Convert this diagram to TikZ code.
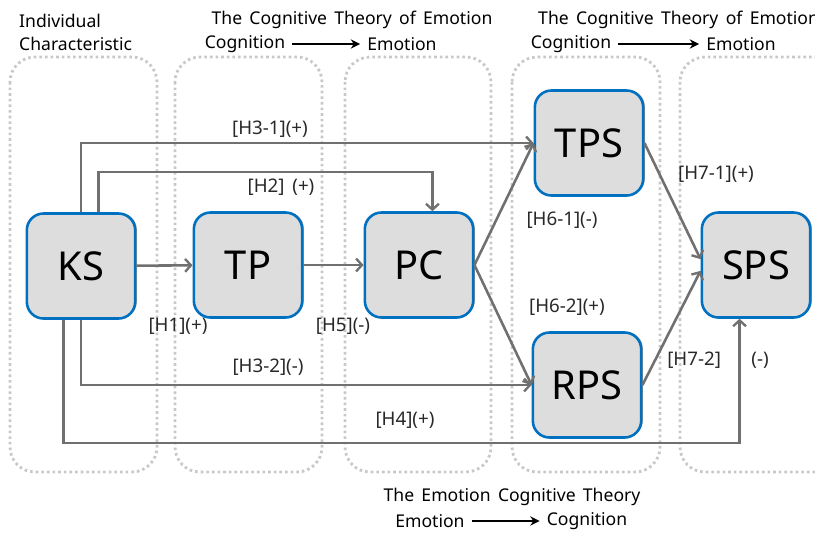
\documentclass[tikz,border=0pt]{standalone}
\usepackage{fontspec}
\setmainfont{Noto Sans}[WordSpace=1.6]
\usetikzlibrary{arrows.meta}
\usetikzlibrary{shadows}

\definecolor{BoxBlue}{RGB}{0,112,192}
\definecolor{BoxGrey}{RGB}{221,221,221}
\definecolor{LinkGrey}{RGB}{112,112,112}
\definecolor{LaneGrey}{RGB}{200,200,200}
\definecolor{LabelGrey}{RGB}{40,40,40}

\begin{document}
\begin{tikzpicture}[x=0.03cm, y=-0.03cm,
      factor/.style={rectangle, rounded corners=0.5cm, draw=BoxBlue,
         line width=2.2pt, fill=BoxGrey, minimum width=3.25cm,
         minimum height=3.15cm, font=\fontsize{34}{40}\selectfont,
         drop shadow={shadow xshift=1.4pt, shadow yshift=0.4pt,
            opacity=0.8, fill=LinkGrey}},
      link/.style={draw=LinkGrey, line width=2.2pt,
         -{Straight Barb[length=5pt, width=11pt, line width=2pt]}},
      lane/.style={draw=LaneGrey, line width=2.4pt,
         dash pattern=on 2.2pt off 2.6pt, rounded corners=0.75cm},
      hyp/.style={font=\fontsize{16}{19}\selectfont, text=LabelGrey},
      head/.style={font=\fontsize{15}{19.6}\selectfont, inner sep=0pt},
      cue/.style={draw=black, line width=1.5pt,
         -{Stealth[length=8pt, width=8pt]}, shorten <=6pt, shorten >=6pt}]
      \useasboundingbox (0,0) rectangle (815,532);

      % dotted lanes
      \draw [lane] (10,57) rectangle (157,472);
      \draw [lane] (175,57) rectangle (322,472);
      \draw [lane] (345,57) rectangle (491,472);
      \draw [lane] (512,57) rectangle (660,472);
      \draw [lane] (680,57) rectangle (860,472);

      % headings
      \node (indiv) at (19,32) [head, anchor=west, align=left]
         {Individual\\Characteristic};
      \node (cte1) at (352,20) [head] {The Cognitive Theory of Emotion};
      \node (cog1) at (245,44) [head] {Cognition};
      \node (emo1) at (402,44) [head] {Emotion};
      \draw [cue] (cog1) -- (emo1);
      \node (cte2) at (538,20) [head, anchor=west] {The Cognitive Theory of Emotion};
      \node (cog2) at (571,44) [head] {Cognition};
      \node (emo2) at (741,44) [head] {Emotion};
      \draw [cue] (cog2) -- (emo2);
      \node (ect) at (512,497) [head] {The Emotion Cognitive Theory};
      \node (emo3) at (430,521) [head] {Emotion};
      \node (cog3) at (587,521) [head] {Cognition};
      \draw [cue] (emo3) -- (cog3);

      % variables
      \node (KS) at (81,266) [factor] {KS};
      \node (TP) at (248,265) [factor] {TP};
      \node (PC) at (419,265) [factor] {PC};
      \node (TPS) at (589,143) [factor] {TPS};
      \node (RPS) at (587,385) [factor] {RPS};
      \node (SPS) at (756,265) [factor] {SPS};

      \coordinate (h2turn) at (0,172);
      \coordinate (h4turn) at (0,443);

      % paths
      \draw [link] (KS) -- (TP);
      \draw [link] (TP) -- (PC);
      \draw [link] (KS.72) -- (KS.72 |- h2turn) -| (PC.76);
      \draw [link] (KS.north) |- (TPS.west);
      \draw [link] (KS.south) |- (RPS.west);
      \draw [link] (KS.-108) -- (KS.-108 |- h4turn) -| (SPS.-107);
      \draw [link] (PC.east) -- (TPS.west);
      \draw [link] (PC.east) -- (RPS.west);
      \draw [link] (TPS.east) -- (SPS.174);
      \draw [link] (RPS.east) -- (SPS.186);

      % hypotheses
      \node (h1) at (178,326) [hyp] {[H1](+)};
      \node (h2) at (281,187) [hyp] {[H2] (+)};
      \node (h31) at (270,129) [hyp] {[H3-1](+)};
      \node (h32) at (268,367) [hyp] {[H3-2](-)};
      \node (h4) at (405,420) [hyp] {[H4](+)};
      \node (h5) at (343,326) [hyp] {[H5](-)};
      \node (h61) at (562,220) [hyp] {[H6-1](-)};
      \node (h62) at (567,307) [hyp] {[H6-2](+)};
      \node (h71) at (716,174) [hyp] {[H7-1](+)};
      \node (h72) at (718,360) [hyp] {[H7-2]\hspace{26pt}(-)};
   \end{tikzpicture}
\end{document}
